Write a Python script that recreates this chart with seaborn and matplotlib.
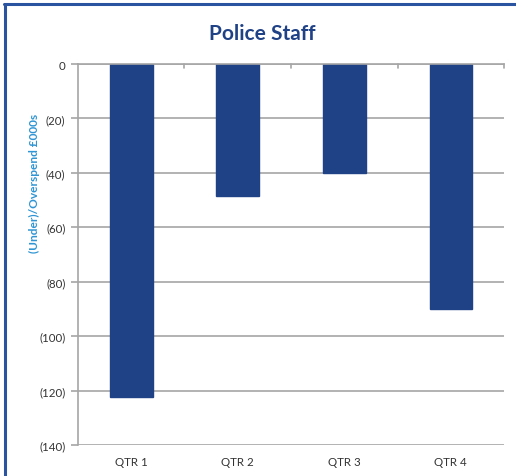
import matplotlib
matplotlib.use("Agg")
import matplotlib.pyplot as plt
import seaborn as sns
import pandas as pd
from matplotlib.lines import Line2D

quarters = ["QTR 1", "QTR 2", "QTR 3", "QTR 4"]
variance = [-122.5, -48.5, -40, -90]
yticks = [0, -20, -40, -60, -80, -100, -120, -140]
ytick_labels = ["0", "(20)", "(40)", "(60)", "(80)", "(100)", "(120)", "(140)"]

sns.set_theme(style="white")
plt.rcParams['font.family'] = ['Lato', 'DejaVu Sans']

df = pd.DataFrame({"quarter": quarters, "variance": variance})

fig = plt.figure(figsize=(5.16, 4.77), dpi=100)
ax = fig.add_axes([0.151, 0.065, 0.826, 0.7987])

sns.barplot(data=df, x="quarter", y="variance", color="#1F4287", width=0.4,
            saturation=1, ax=ax, edgecolor="#1F4287")

ax.set_ylim(-140, 0)
ax.set_xlim(-0.5, 3.5)
ax.set_yticks(yticks)
ax.set_yticklabels(ytick_labels)
ax.yaxis.grid(True, color="#A6A6A6", linewidth=1.2)
ax.set_axisbelow(True)
for s in ["right", "bottom"]:
    ax.spines[s].set_visible(False)
ax.spines["left"].set_color("#A6A6A6")
ax.spines["left"].set_linewidth(1.2)
ax.spines["top"].set_color("#A6A6A6")
ax.spines["top"].set_linewidth(1.2)

ax.tick_params(axis="y", which="both", length=5, color="#A6A6A6", width=1.2,
               labelsize=8.3, labelcolor="#333333", left=True, pad=4)
ax.tick_params(axis="x", length=0, labelsize=8.3, labelcolor="#333333", pad=8)

# small ticks at category boundaries on the zero line
for b in [0.5, 1.5, 2.5, 3.5]:
    ax.plot([b, b], [0, -1.5], color="#A6A6A6", linewidth=1.2, clip_on=False)

ax.set_xlabel("")
ax.set_ylabel("(Under)/Overspend £000s", color="#2E95D3", fontsize=8.6,
              fontweight="bold")
ax.yaxis.set_label_coords(-0.09, 0.69)

fig.text(0.508, 0.928, "Police Staff", ha="center", va="center",
         fontsize=15, fontweight="bold", color="#1F4287")

# frame border (left and top)
fig.add_artist(Line2D([0.009, 0.009], [0.0, 0.989], transform=fig.transFigure,
                      color="#2B54A0", linewidth=2.2))
fig.add_artist(Line2D([0.008, 1.0], [0.989, 0.989], transform=fig.transFigure,
                      color="#2B54A0", linewidth=2.2))

fig.savefig("out.png", dpi=100)
